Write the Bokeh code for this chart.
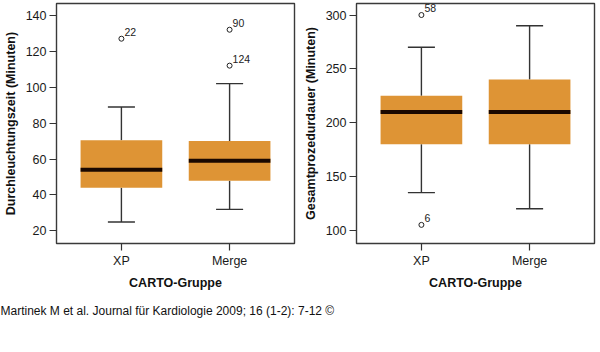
from bokeh.plotting import figure
from bokeh.models import Range1d, FixedTicker, ColumnDataSource
from bokeh.layouts import column, row
from bokeh.embed import file_html
from bokeh.resources import INLINE
from bokeh.core.properties import value

# ---- data ----
groups = ["XP", "Merge"]

fl_lower = [25, 32]
fl_q1 = [44, 48]
fl_median = [54, 59]
fl_q3 = [70.5, 70]
fl_upper = [89, 102]
fl_out_group = [0, 1, 1]
fl_out_value = [127, 132, 112]
fl_out_label = ["22", "90", "124"]
fl_ticks = [20, 40, 60, 80, 100, 120, 140]

gp_lower = [135, 120]
gp_q1 = [180, 180]
gp_median = [210, 210]
gp_q3 = [225, 240]
gp_upper = [270, 290]
gp_out_group = [0, 0]
gp_out_value = [300, 105]
gp_out_label = ["58", "6"]
gp_ticks = [100, 150, 200, 250, 300]

footer = "Martinek M et al. Journal für Kardiologie 2009; 16 (1-2): 7-12 ©"

FONT = "Liberation Sans"
BOX = "#DE9435"
MED = "#1A0800"
LINE = "#333333"


def panel(ylabel, y0, y1, ticks, lower, q1, med, q3, upper, og, ov, ol):
    p = figure(width=300, height=292, output_backend="svg", toolbar_location=None,
               x_range=Range1d(-0.6, 1.6), y_range=Range1d(y0, y1),
               min_border_left=52, min_border_right=6, min_border_top=3,
               min_border_bottom=46)
    p.grid.visible = False
    p.outline_line_color = "#3a3a3a"
    p.outline_line_width = 1.4
    p.background_fill_color = "white"
    p.border_fill_color = "white"

    x = list(range(len(groups)))
    src = ColumnDataSource(dict(x=x, lower=lower, q1=q1, med=med, q3=q3, upper=upper))
    # whisker stems
    p.segment(x0="x", y0="q3", x1="x", y1="upper", source=src, line_color=LINE, line_width=1.4)
    p.segment(x0="x", y0="q1", x1="x", y1="lower", source=src, line_color=LINE, line_width=1.4)
    # caps
    p.rect(x="x", y="upper", width=0.25, height=1.4, height_units="screen", source=src,
           fill_color=LINE, line_color=None)
    p.rect(x="x", y="lower", width=0.25, height=1.4, height_units="screen", source=src,
           fill_color=LINE, line_color=None)
    # boxes
    p.vbar(x="x", width=0.755, bottom="q1", top="q3", source=src,
           fill_color=BOX, line_color=None)
    # median
    p.rect(x="x", y="med", width=0.755, height=4, height_units="screen", source=src,
           fill_color=MED, line_color=None)
    # outliers
    osrc = ColumnDataSource(dict(x=og, y=ov, t=ol))
    p.scatter(x="x", y="y", source=osrc, marker="circle", size=5,
              fill_color="white", line_color="#222222", line_width=1)
    p.text(x="x", y="y", text="t", source=osrc, x_offset=3, y_offset=-3,
           text_baseline="bottom", text_align="left", text_font=value(FONT),
           text_font_size="10.5px", text_color="#222222")

    p.xaxis.ticker = FixedTicker(ticks=x)
    p.xaxis.major_label_overrides = {i: g for i, g in enumerate(groups)}
    p.yaxis.ticker = FixedTicker(ticks=ticks)
    for ax in (p.xaxis[0], p.yaxis[0]):
        ax.axis_line_color = None
        ax.major_tick_out = 7
        ax.major_tick_in = 0
        ax.minor_tick_line_color = None
        ax.major_tick_line_color = LINE
        ax.major_tick_line_width = 1.2
        ax.major_label_text_font = FONT
        ax.major_label_text_font_size = "12.5px"
        ax.major_label_text_color = "#1a1a1a"
        ax.axis_label_text_font = FONT
        ax.axis_label_text_font_size = "12.5px"
        ax.axis_label_text_font_style = "bold"
        ax.axis_label_text_color = "#111111"
        ax.major_label_standoff = 3
        ax.axis_label_standoff = 5
    p.xaxis.axis_label = "CARTO-Gruppe"
    p.yaxis.axis_label = ylabel
    return p


p1 = panel("Durchleuchtungszeit (Minuten)", 13.0, 146.6, fl_ticks,
           fl_lower, fl_q1, fl_median, fl_q3, fl_upper,
           fl_out_group, fl_out_value, fl_out_label)
p2 = panel("Gesamtprozedurdauer (Minuten)", 87.7, 310.7, gp_ticks,
           gp_lower, gp_q1, gp_median, gp_q3, gp_upper,
           gp_out_group, gp_out_value, gp_out_label)

pf = figure(width=600, height=60, output_backend="svg", toolbar_location=None,
            x_range=Range1d(0, 600), y_range=Range1d(0, 60),
            x_axis_location=None, y_axis_location=None,
            min_border=0, min_border_left=0, min_border_right=0,
            min_border_top=0, min_border_bottom=0)
pf.grid.visible = False
pf.outline_line_color = None
pf.text(x=[0], y=[42], text=[footer], text_font=value(FONT), text_font_size="12px",
        text_baseline="alphabetic", text_align="left", text_color="#111111")

layout = column(row(p1, p2), pf)
open("out.html", "w").write(file_html(layout, INLINE))
